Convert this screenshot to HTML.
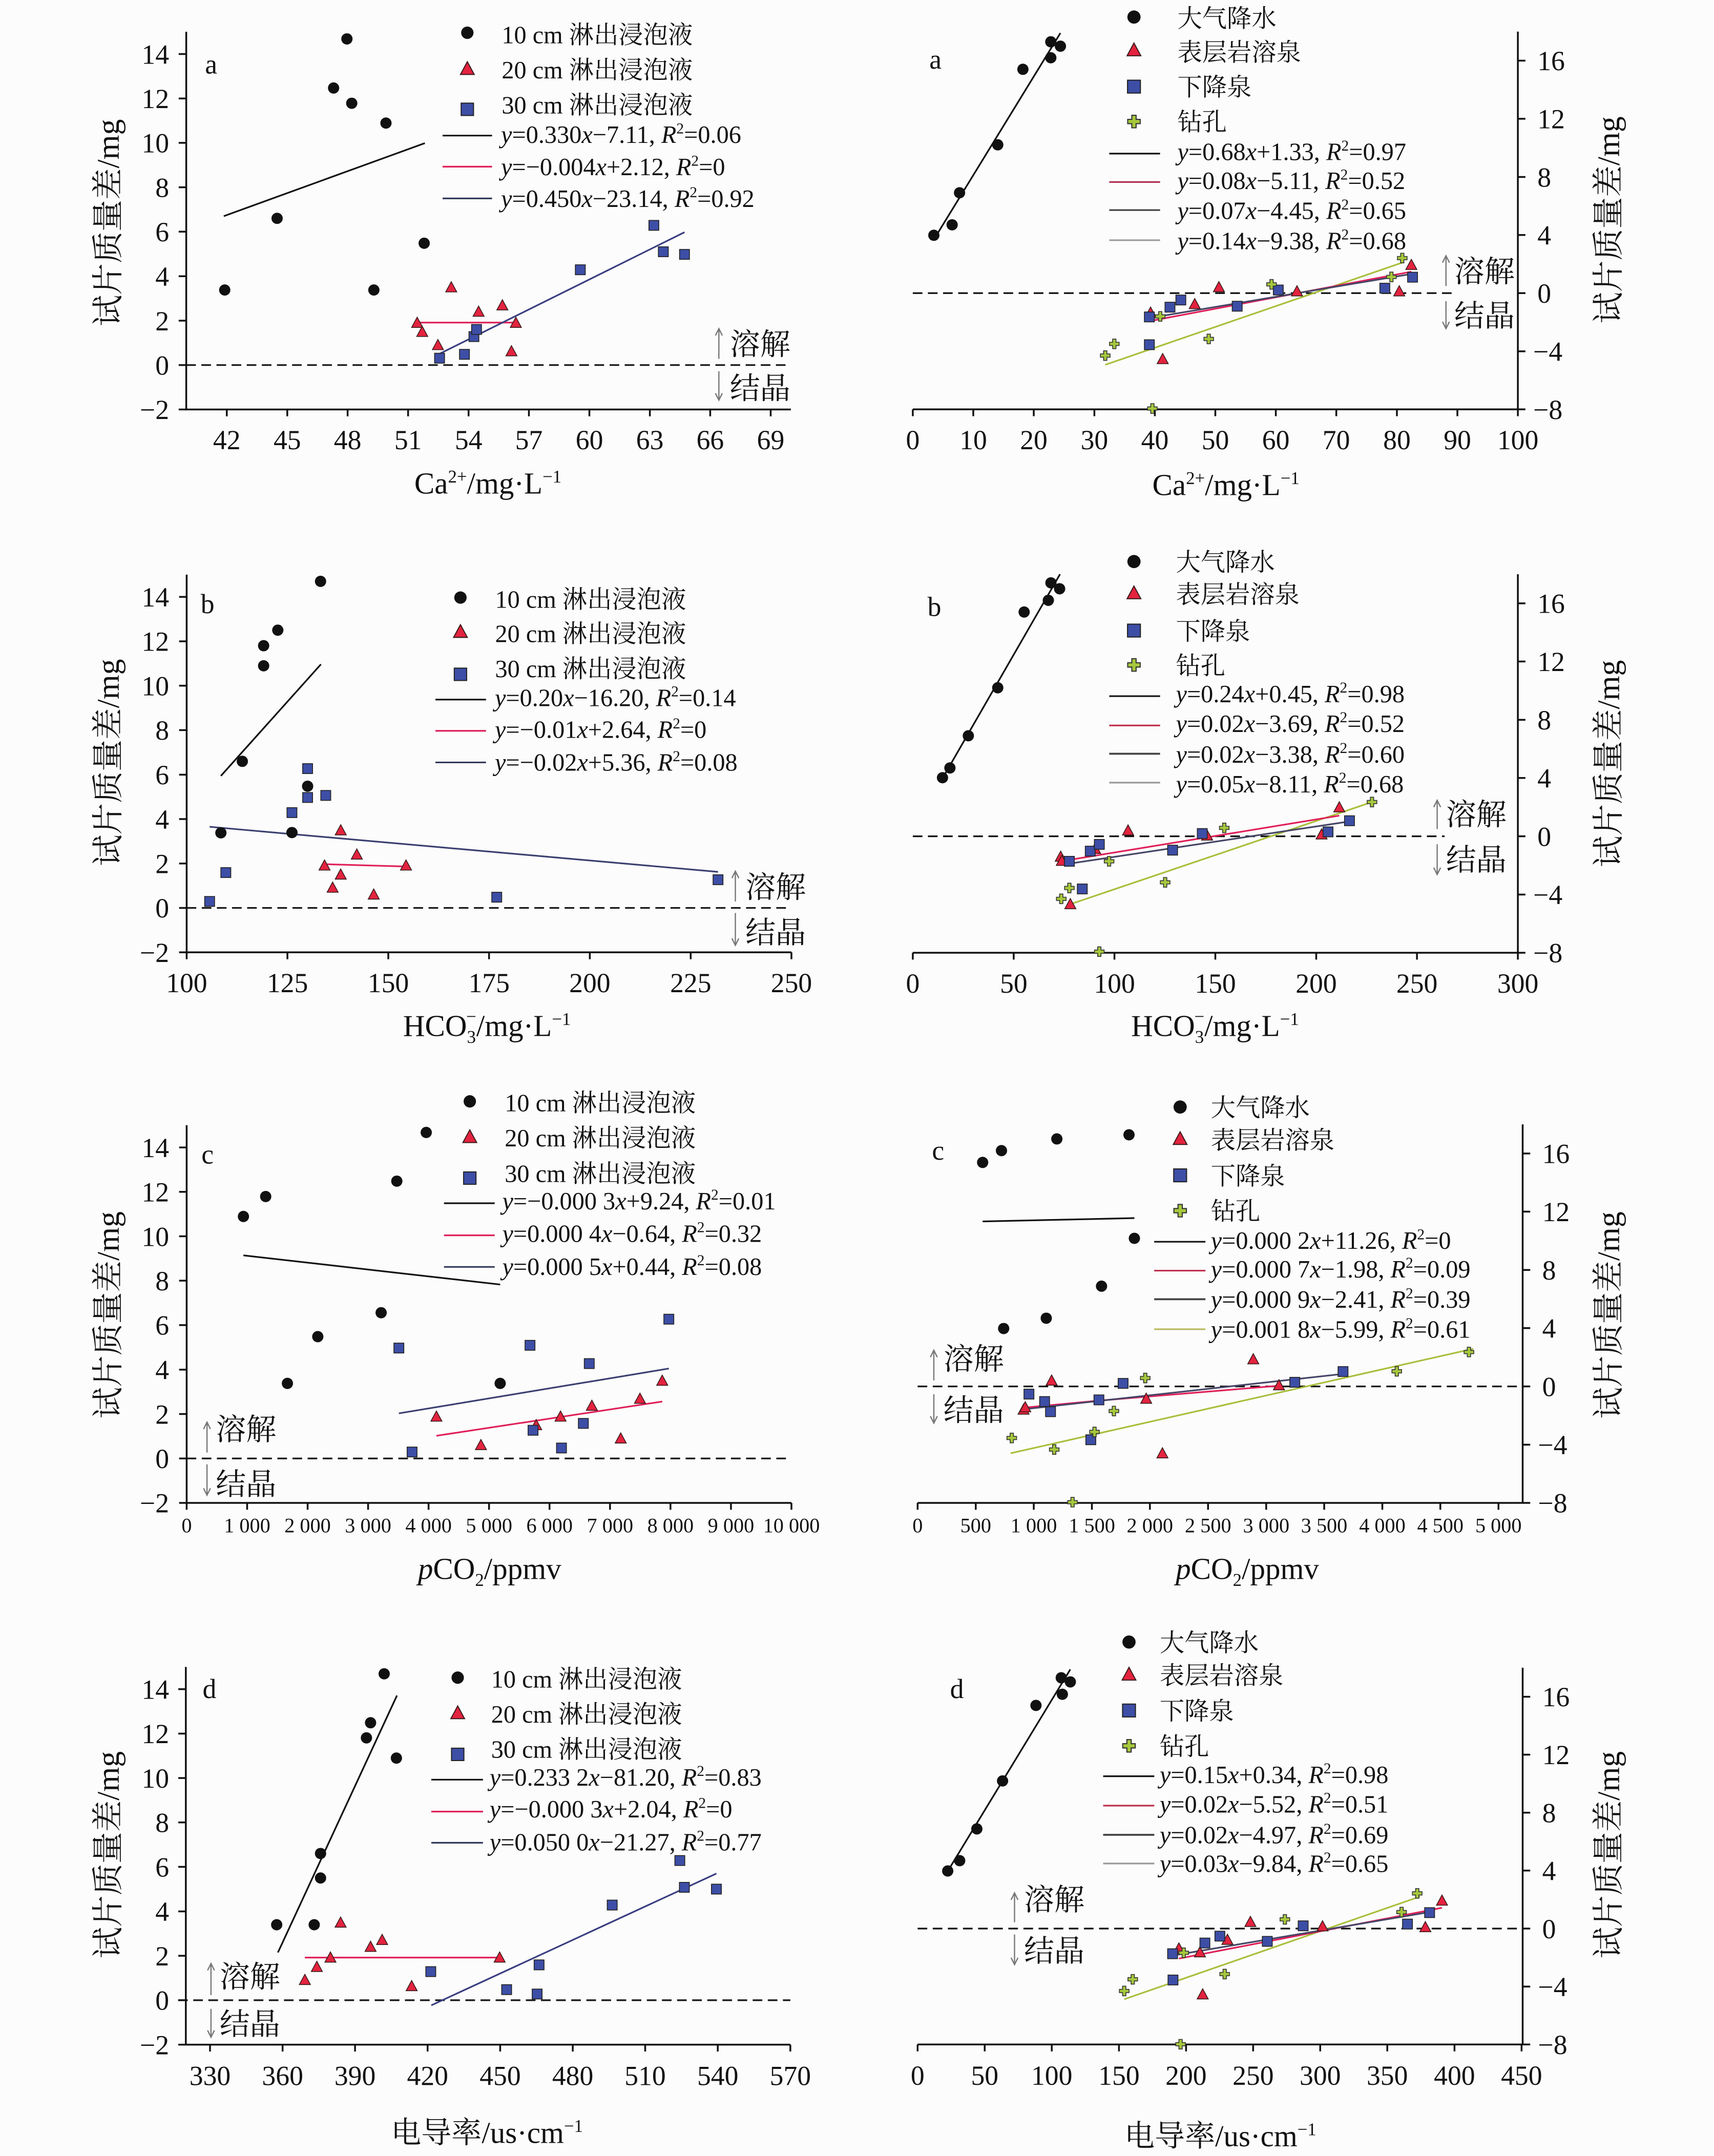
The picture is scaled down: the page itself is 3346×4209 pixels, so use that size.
<!DOCTYPE html>
<html>
<head>
<meta charset="utf-8">
<style>
html,body{margin:0;padding:0;background:#fcfcfc;}
svg{display:block;}
text{font-family:"Liberation Serif","Noto Serif CJK SC",serif;fill:#111;}
.tk{font-size:20px;}
.tks{font-size:15px;}
.lg{font-size:18px;}
.ax{font-size:22px;}
.yl{font-size:23px;}
.lt{font-size:20px;}
.sj{font-size:22px;}
.axis{stroke:#111;stroke-width:1.3;fill:none;}
.dash{stroke:#111;stroke-width:1.2;stroke-dasharray:7,4;fill:none;}
.arr{stroke:#777;stroke-width:0.9;fill:none;}
</style>
</head>
<body>
<svg width="3346" height="4209" viewBox="0 0 1247 1568" preserveAspectRatio="none" xmlns="http://www.w3.org/2000/svg">
<defs>
<circle id="C" r="4.1" fill="#111"/>
<path id="T" d="M0,-4.4 L4,3 L-4,3 Z" fill="#e4233f" stroke="#3a1a1a" stroke-width="0.6"/>
<rect id="S" x="-3.6" y="-3.6" width="7.2" height="7.2" fill="#3d4ea6" stroke="#222" stroke-width="0.6"/>
<path id="P" d="M-1.2,-3.5 h2.4 v2.3 h2.3 v2.4 h-2.3 v2.3 h-2.4 v-2.3 h-2.3 v-2.4 h2.3 z" fill="#a6c83c" stroke="#333" stroke-width="0.6"/>
</defs>
<rect x="0" y="0" width="1247" height="1568" fill="#fcfcfc"/>

<!-- ================= Panel a-left ================= -->
<g>
<path class="axis" d="M135.5,23.1 V297.8 H575.4"/>
<path class="axis" d="M130,297.8H135.5 M130,265.5H135.5 M130,233.2H135.5 M130,200.9H135.5 M130,168.5H135.5 M130,136.2H135.5 M130,103.9H135.5 M130,71.6H135.5 M130,39.3H135.5"/>
<path class="axis" d="M165,297.8v5 M209,297.8v5 M252.9,297.8v5 M296.9,297.8v5 M340.9,297.8v5 M384.8,297.8v5 M428.8,297.8v5 M472.8,297.8v5 M516.7,297.8v5 M560.7,297.8v5"/>
<g class="tk" text-anchor="end">
<text x="123" y="304.8">−2</text><text x="123" y="272.5">0</text><text x="123" y="240.2">2</text><text x="123" y="207.9">4</text><text x="123" y="175.5">6</text><text x="123" y="143.2">8</text><text x="123" y="110.9">10</text><text x="123" y="78.6">12</text><text x="123" y="46.3">14</text>
</g>
<g class="tk" text-anchor="middle">
<text x="165" y="326.8">42</text><text x="209" y="326.8">45</text><text x="252.9" y="326.8">48</text><text x="296.9" y="326.8">51</text><text x="340.9" y="326.8">54</text><text x="384.8" y="326.8">57</text><text x="428.8" y="326.8">60</text><text x="472.8" y="326.8">63</text><text x="516.7" y="326.8">66</text><text x="560.7" y="326.8">69</text>
</g>
<path class="dash" d="M135.5,265.5H575.4"/>
<text class="lt" x="153.6" y="53.5" text-anchor="middle">a</text>
<text class="yl" transform="translate(86.5,162) rotate(-90)" text-anchor="middle">试片质量差/mg</text>
<text class="ax" x="355" y="359" text-anchor="middle">Ca<tspan font-size="13" dy="-8">2+</tspan><tspan dy="8">/mg·L</tspan><tspan font-size="13" dy="-8">−1</tspan></text>
<path class="arr" d="M523,261V239 M520.5,244L523,239L525.5,244"/>
<path class="arr" d="M523,270V291 M520.5,286L523,291L525.5,286"/>
<text class="sj" x="531" y="258">溶解</text>
<text class="sj" x="531" y="290">结晶</text>
<!-- legend -->
<use href="#C" x="340" y="23.8" transform="translate(-34,-2.38) scale(1.1)"/>
<use href="#T" transform="translate(340,50.4) scale(1.25)"/>
<use href="#S" transform="translate(340,79.5) scale(1.25)"/>
<g class="lg">
<text x="365" y="31.5">10 cm 淋出浸泡液</text>
<text x="365" y="57">20 cm 淋出浸泡液</text>
<text x="365" y="82.5">30 cm 淋出浸泡液</text>
<text x="364.5" y="104"><tspan font-style="italic">y</tspan>=0.330<tspan font-style="italic">x</tspan>−7.11, <tspan font-style="italic">R</tspan><tspan font-size="11" dy="-7">2</tspan><tspan dy="7">=0.06</tspan></text>
<text x="364.5" y="127.5"><tspan font-style="italic">y</tspan>=−0.004<tspan font-style="italic">x</tspan>+2.12, <tspan font-style="italic">R</tspan><tspan font-size="11" dy="-7">2</tspan><tspan dy="7">=0</tspan></text>
<text x="364.5" y="150.5"><tspan font-style="italic">y</tspan>=0.450<tspan font-style="italic">x</tspan>−23.14, <tspan font-style="italic">R</tspan><tspan font-size="11" dy="-7">2</tspan><tspan dy="7">=0.92</tspan></text>
</g>
<path d="M322,98.6H358" stroke="#111" stroke-width="1.2"/>
<path d="M322,121.2H358" stroke="#e0205a" stroke-width="1.2"/>
<path d="M322,144.3H358" stroke="#333a5a" stroke-width="1.2"/>
<!-- lines -->
<path d="M162.8,157.2L309.1,104.1" stroke="#111" stroke-width="1.2"/>
<path d="M305.7,234.6H374.3" stroke="#e0205a" stroke-width="1.2"/>
<path d="M319.8,257.3L498,168.9" stroke="#3b3f80" stroke-width="1.2"/>
<!-- data -->
<use href="#C" x="163.5" y="210.9"/><use href="#C" x="201.6" y="158.8"/><use href="#C" x="242.7" y="64"/><use href="#C" x="252.4" y="28.3"/><use href="#C" x="255.9" y="75.1"/><use href="#C" x="280.8" y="89.5"/><use href="#C" x="272" y="210.9"/><use href="#C" x="308.6" y="176.9"/>
<use href="#T" x="303.5" y="235.1"/><use href="#T" x="307.2" y="241.7"/><use href="#T" x="318.6" y="251.3"/><use href="#T" x="328.3" y="209.3"/><use href="#T" x="348.2" y="227"/><use href="#T" x="365.5" y="222.4"/><use href="#T" x="375.3" y="235.1"/><use href="#T" x="372.1" y="255.8"/>
<use href="#S" x="319.8" y="260.5"/><use href="#S" x="337.9" y="257.7"/><use href="#S" x="344.8" y="244.8"/><use href="#S" x="346.7" y="239.6"/><use href="#S" x="422.2" y="196.2"/><use href="#S" x="475.7" y="163.9"/><use href="#S" x="482.6" y="183.1"/><use href="#S" x="498" y="185"/>
</g>

<!-- ================= Panel a-right ================= -->
<g>
<path class="axis" d="M664.1,297.7H1104.3 M1104.3,23V297.7"/>
<path class="axis" d="M1104.3,297.7h5.5 M1104.3,255.5h5.5 M1104.3,213.2h5.5 M1104.3,170.9h5.5 M1104.3,128.7h5.5 M1104.3,86.4h5.5 M1104.3,44.1h5.5"/>
<path class="axis" d="M664.1,297.7v5 M708.1,297.7v5 M752.1,297.7v5 M796.2,297.7v5 M840.2,297.7v5 M884.2,297.7v5 M928.2,297.7v5 M972.2,297.7v5 M1016.3,297.7v5 M1060.3,297.7v5 M1104.3,297.7v5"/>
<g class="tk">
<text x="1115.5" y="304.7">−8</text><text x="1115.5" y="262.5">−4</text><text x="1118.5" y="220.2">0</text><text x="1118.5" y="177.9">4</text><text x="1118.5" y="135.7">8</text><text x="1118.5" y="93.4">12</text><text x="1118.5" y="51.1">16</text>
</g>
<g class="tk" text-anchor="middle">
<text x="664.1" y="326.7">0</text><text x="708.1" y="326.7">10</text><text x="752.1" y="326.7">20</text><text x="796.2" y="326.7">30</text><text x="840.2" y="326.7">40</text><text x="884.2" y="326.7">50</text><text x="928.2" y="326.7">60</text><text x="972.2" y="326.7">70</text><text x="1016.3" y="326.7">80</text><text x="1060.3" y="326.7">90</text><text x="1104.3" y="326.7">100</text>
</g>
<path class="dash" d="M664.1,213.2H1104.3"/>
<text class="lt" x="680.6" y="50" text-anchor="middle">a</text>
<text class="yl" transform="translate(1178,160) rotate(-90)" text-anchor="middle">试片质量差/mg</text>
<text class="ax" x="891.9" y="360" text-anchor="middle">Ca<tspan font-size="13" dy="-8">2+</tspan><tspan dy="8">/mg·L</tspan><tspan font-size="13" dy="-8">−1</tspan></text>
<path class="arr" d="M1052,208V186 M1049.5,191L1052,186L1054.5,191"/>
<path class="arr" d="M1052,219V239 M1049.5,234L1052,239L1054.5,234"/>
<rect x="1057" y="184" width="46" height="56" fill="#fcfcfc"/>
<text class="sj" x="1058" y="205">溶解</text>
<text class="sj" x="1058" y="237.3">结晶</text>
<!-- legend -->
<circle cx="825" cy="12.4" r="4.8" fill="#111"/>
<use href="#T" transform="translate(825,36.8) scale(1.25)"/>
<use href="#S" transform="translate(825,63) scale(1.3)"/>
<use href="#P" transform="translate(825,88.4) scale(1.3)"/>
<g class="lg">
<text x="856.6" y="19.6">大气降水</text>
<text x="856.6" y="44.1">表层岩溶泉</text>
<text x="856.6" y="69.5">下降泉</text>
<text x="856.6" y="94.9">钻孔</text>
<text x="856.6" y="116.5"><tspan font-style="italic">y</tspan>=0.68<tspan font-style="italic">x</tspan>+1.33, <tspan font-style="italic">R</tspan><tspan font-size="11" dy="-7">2</tspan><tspan dy="7">=0.97</tspan></text>
<text x="856.6" y="137.5"><tspan font-style="italic">y</tspan>=0.08<tspan font-style="italic">x</tspan>−5.11, <tspan font-style="italic">R</tspan><tspan font-size="11" dy="-7">2</tspan><tspan dy="7">=0.52</tspan></text>
<text x="856.6" y="159.3"><tspan font-style="italic">y</tspan>=0.07<tspan font-style="italic">x</tspan>−4.45, <tspan font-style="italic">R</tspan><tspan font-size="11" dy="-7">2</tspan><tspan dy="7">=0.65</tspan></text>
<text x="856.6" y="181.2"><tspan font-style="italic">y</tspan>=0.14<tspan font-style="italic">x</tspan>−9.38, <tspan font-style="italic">R</tspan><tspan font-size="11" dy="-7">2</tspan><tspan dy="7">=0.68</tspan></text>
</g>
<path d="M807,111.7H844" stroke="#111" stroke-width="1.2"/>
<path d="M807,132.4H844" stroke="#b03050" stroke-width="1.2"/>
<path d="M807,152.8H844" stroke="#444" stroke-width="1.2"/>
<path d="M807,174.7H844" stroke="#999" stroke-width="1.2"/>
<!-- lines -->
<path d="M679.4,174.2L771.5,24" stroke="#111" stroke-width="1.2"/>
<path d="M804.1,265.3L1020.2,191" stroke="#a9bf3c" stroke-width="1.2"/>
<path d="M837.1,233.4L1026.8,197.6" stroke="#e0205a" stroke-width="1.2"/>
<path d="M836.2,231.3L1027.7,199.1" stroke="#454566" stroke-width="1.2"/>
<!-- data -->
<use href="#C" x="679.4" y="171.1"/><use href="#C" x="692.7" y="163.5"/><use href="#C" x="698.1" y="140.2"/><use href="#C" x="725.9" y="105.3"/><use href="#C" x="744.2" y="50.4"/><use href="#C" x="764.5" y="42"/><use href="#C" x="764.5" y="30.4"/><use href="#C" x="771.5" y="33.6"/>
<use href="#T" x="837.1" y="227.7"/><use href="#T" x="845.9" y="261.5"/><use href="#T" x="869.2" y="221.5"/><use href="#T" x="886.8" y="209.2"/><use href="#T" x="943.6" y="212.2"/><use href="#T" x="1018" y="212.2"/><use href="#T" x="1026.8" y="193"/>
<use href="#S" x="836.2" y="230.5"/><use href="#S" x="836.2" y="250.7"/><use href="#S" x="851.2" y="223.4"/><use href="#S" x="859.1" y="218.2"/><use href="#S" x="900.1" y="222.7"/><use href="#S" x="930" y="210.9"/><use href="#S" x="1007.5" y="209.6"/><use href="#S" x="1027.7" y="201.6"/>
<use href="#P" x="804.1" y="258.6"/><use href="#P" x="810.7" y="250.1"/><use href="#P" x="844.1" y="230.1"/><use href="#P" x="879.4" y="246.5"/><use href="#P" x="925.1" y="206.8"/><use href="#P" x="1012.3" y="201.4"/><use href="#P" x="1020.2" y="187.7"/><use href="#P" x="838.4" y="297.1"/>
</g>

<!-- ================= Panel b-left ================= -->
<g>
<path class="axis" d="M135.8,417.9V692.6H575.8"/>
<path class="axis" d="M130.3,692.6H135.8 M130.3,660.3H135.8 M130.3,628H135.8 M130.3,595.7H135.8 M130.3,563.4H135.8 M130.3,531H135.8 M130.3,498.7H135.8 M130.3,466.4H135.8 M130.3,434.1H135.8"/>
<path class="axis" d="M135.8,692.6v5 M209.1,692.6v5 M282.5,692.6v5 M355.8,692.6v5 M429.1,692.6v5 M502.5,692.6v5 M575.8,692.6v5"/>
<g class="tk" text-anchor="end">
<text x="123" y="699.6">−2</text><text x="123" y="667.3">0</text><text x="123" y="635">2</text><text x="123" y="602.7">4</text><text x="123" y="570.4">6</text><text x="123" y="538">8</text><text x="123" y="505.7">10</text><text x="123" y="473.4">12</text><text x="123" y="441.1">14</text>
</g>
<g class="tk" text-anchor="middle">
<text x="135.8" y="721.6">100</text><text x="209.1" y="721.6">125</text><text x="282.5" y="721.6">150</text><text x="355.8" y="721.6">175</text><text x="429.1" y="721.6">200</text><text x="502.5" y="721.6">225</text><text x="575.8" y="721.6">250</text>
</g>
<path class="dash" d="M135.8,660.3H575.8"/>
<text class="lt" x="151" y="446" text-anchor="middle">b</text>
<text class="yl" transform="translate(86.5,554.6) rotate(-90)" text-anchor="middle">试片质量差/mg</text>
<text class="ax" x="354.3" y="753.5" text-anchor="middle">HCO<tspan font-size="13" dy="5">3</tspan><tspan font-size="13" dx="-7" dy="-15">−</tspan><tspan dy="10">/mg·L</tspan><tspan font-size="13" dy="-8">−1</tspan></text>
<path class="arr" d="M535,655.6V633.6 M532.5,638.6L535,633.6L537.5,638.6"/>
<path class="arr" d="M535,664V687.5 M532.5,682.5L535,687.5L537.5,682.5"/>
<text class="sj" x="542.3" y="652.8">溶解</text>
<text class="sj" x="542.3" y="685.8">结晶</text>
<!-- legend -->
<circle cx="335" cy="434.6" r="4.5" fill="#111"/>
<use href="#T" transform="translate(335,459.8) scale(1.25)"/>
<use href="#S" transform="translate(335,490.4) scale(1.25)"/>
<g class="lg">
<text x="360.2" y="442">10 cm 淋出浸泡液</text>
<text x="360.2" y="467">20 cm 淋出浸泡液</text>
<text x="360.2" y="492.5">30 cm 淋出浸泡液</text>
<text x="360" y="513.5"><tspan font-style="italic">y</tspan>=0.20<tspan font-style="italic">x</tspan>−16.20, <tspan font-style="italic">R</tspan><tspan font-size="11" dy="-7">2</tspan><tspan dy="7">=0.14</tspan></text>
<text x="360" y="536.7"><tspan font-style="italic">y</tspan>=−0.01<tspan font-style="italic">x</tspan>+2.64, <tspan font-style="italic">R</tspan><tspan font-size="11" dy="-7">2</tspan><tspan dy="7">=0</tspan></text>
<text x="360" y="560.5"><tspan font-style="italic">y</tspan>=−0.02<tspan font-style="italic">x</tspan>+5.36, <tspan font-style="italic">R</tspan><tspan font-size="11" dy="-7">2</tspan><tspan dy="7">=0.08</tspan></text>
</g>
<path d="M316.8,508.8H353.6" stroke="#111" stroke-width="1.2"/>
<path d="M316.8,531.5H353.6" stroke="#e0205a" stroke-width="1.2"/>
<path d="M316.8,554.5H353.6" stroke="#333a5a" stroke-width="1.2"/>
<!-- lines -->
<path d="M160.7,564.3L233.5,483.1" stroke="#111" stroke-width="1.2"/>
<path d="M236.1,628.5L295.4,630.2" stroke="#e0205a" stroke-width="1.2"/>
<path d="M152.5,601.3L522.4,634.1" stroke="#3b3f70" stroke-width="1.2"/>
<!-- data -->
<use href="#C" x="160.7" y="605.7"/><use href="#C" x="176.3" y="553.7"/><use href="#C" x="191.8" y="469.6"/><use href="#C" x="191.8" y="484.2"/><use href="#C" x="202.1" y="458.3"/><use href="#C" x="212.4" y="605.5"/><use href="#C" x="223.8" y="571.8"/><use href="#C" x="233.2" y="422.8"/>
<use href="#T" x="236.1" y="629.8"/><use href="#T" x="242" y="645.9"/><use href="#T" x="247.9" y="604.2"/><use href="#T" x="247.9" y="636.4"/><use href="#T" x="259.6" y="621.8"/><use href="#T" x="271.9" y="650.9"/><use href="#T" x="295.4" y="629.8"/>
<use href="#S" x="152.5" y="655.6"/><use href="#S" x="164.3" y="634.6"/><use href="#S" x="212.4" y="591"/><use href="#S" x="223.8" y="559"/><use href="#S" x="223.8" y="580"/><use href="#S" x="237" y="578.5"/><use href="#S" x="361.4" y="652.5"/><use href="#S" x="522.4" y="639.8"/>
</g>

<!-- ================= Panel b-right ================= -->
<g>
<path class="axis" d="M664.1,692.9H1104.3 M1104.3,417.6V692.9"/>
<path class="axis" d="M1104.3,692.9h5.5 M1104.3,650.6h5.5 M1104.3,608.2h5.5 M1104.3,565.8h5.5 M1104.3,523.5h5.5 M1104.3,481.1h5.5 M1104.3,438.8h5.5"/>
<path class="axis" d="M664.1,692.9v5 M737.5,692.9v5 M810.8,692.9v5 M884.2,692.9v5 M957.6,692.9v5 M1030.9,692.9v5 M1104.3,692.9v5"/>
<g class="tk">
<text x="1115.5" y="699.9">−8</text><text x="1115.5" y="657.6">−4</text><text x="1118.5" y="615.2">0</text><text x="1118.5" y="572.8">4</text><text x="1118.5" y="530.5">8</text><text x="1118.5" y="488.1">12</text><text x="1118.5" y="445.8">16</text>
</g>
<g class="tk" text-anchor="middle">
<text x="664.1" y="721.9">0</text><text x="737.5" y="721.9">50</text><text x="810.8" y="721.9">100</text><text x="884.2" y="721.9">150</text><text x="957.6" y="721.9">200</text><text x="1030.9" y="721.9">250</text><text x="1104.3" y="721.9">300</text>
</g>
<path class="dash" d="M664.1,608.2H1104.3"/>
<text class="lt" x="679.8" y="448" text-anchor="middle">b</text>
<text class="yl" transform="translate(1178,555.4) rotate(-90)" text-anchor="middle">试片质量差/mg</text>
<text class="ax" x="884" y="753.5" text-anchor="middle">HCO<tspan font-size="13" dy="5">3</tspan><tspan font-size="13" dx="-7" dy="-15">−</tspan><tspan dy="10">/mg·L</tspan><tspan font-size="13" dy="-8">−1</tspan></text>
<path class="arr" d="M1045.6,603V582 M1043.1,587L1045.6,582L1048.1,587"/>
<path class="arr" d="M1045.6,614V636 M1043.1,631L1045.6,636L1048.1,631"/>
<rect x="1051" y="579" width="50" height="58" fill="#fcfcfc"/>
<text class="sj" x="1052" y="600">溶解</text>
<text class="sj" x="1052" y="633">结晶</text>
<!-- legend -->
<circle cx="825" cy="408.4" r="4.8" fill="#111"/>
<use href="#T" transform="translate(825,431.7) scale(1.25)"/>
<use href="#S" transform="translate(825,458.6) scale(1.3)"/>
<use href="#P" transform="translate(825,483.6) scale(1.3)"/>
<g class="lg">
<text x="855.5" y="415">大气降水</text>
<text x="855.5" y="438.5">表层岩溶泉</text>
<text x="855.5" y="465.3">下降泉</text>
<text x="855.5" y="490.3">钻孔</text>
<text x="855.5" y="510.7"><tspan font-style="italic">y</tspan>=0.24<tspan font-style="italic">x</tspan>+0.45, <tspan font-style="italic">R</tspan><tspan font-size="11" dy="-7">2</tspan><tspan dy="7">=0.98</tspan></text>
<text x="855.5" y="532.3"><tspan font-style="italic">y</tspan>=0.02<tspan font-style="italic">x</tspan>−3.69, <tspan font-style="italic">R</tspan><tspan font-size="11" dy="-7">2</tspan><tspan dy="7">=0.52</tspan></text>
<text x="855.5" y="554.7"><tspan font-style="italic">y</tspan>=0.02<tspan font-style="italic">x</tspan>−3.38, <tspan font-style="italic">R</tspan><tspan font-size="11" dy="-7">2</tspan><tspan dy="7">=0.60</tspan></text>
<text x="855.5" y="576.3"><tspan font-style="italic">y</tspan>=0.05<tspan font-style="italic">x</tspan>−8.11, <tspan font-style="italic">R</tspan><tspan font-size="11" dy="-7">2</tspan><tspan dy="7">=0.68</tspan></text>
</g>
<path d="M807,506.3H844" stroke="#111" stroke-width="1.2"/>
<path d="M807,527.6H844" stroke="#c03050" stroke-width="1.2"/>
<path d="M807,548.2H844" stroke="#444" stroke-width="1.4"/>
<path d="M807,569.2H844" stroke="#999" stroke-width="1.2"/>
<!-- lines -->
<path d="M685.7,566.1L771.2,417.6" stroke="#111" stroke-width="1.2"/>
<path d="M776.3,658.4L998.2,583.3" stroke="#a9bf3c" stroke-width="1.2"/>
<path d="M771.7,626.4L974.4,593.2" stroke="#e0205a" stroke-width="1.2"/>
<path d="M778,628.1L981.8,597.4" stroke="#454566" stroke-width="1.2"/>
<!-- data -->
<use href="#C" x="685.7" y="565.6"/><use href="#C" x="691.1" y="558.5"/><use href="#C" x="704.5" y="535.1"/><use href="#C" x="725.9" y="500.2"/><use href="#C" x="745.1" y="445.1"/><use href="#C" x="762.7" y="436.6"/><use href="#C" x="764.6" y="423.9"/><use href="#C" x="770.9" y="428.2"/>
<use href="#T" x="771.7" y="623.4"/><use href="#T" x="772.5" y="626.4"/><use href="#T" x="778.7" y="657.9"/><use href="#T" x="796.7" y="617.7"/><use href="#T" x="820.7" y="604.3"/><use href="#T" x="878.2" y="608"/><use href="#T" x="961.5" y="607.2"/><use href="#T" x="974.4" y="587.5"/>
<use href="#S" x="778" y="626.4"/><use href="#S" x="793.2" y="619"/><use href="#S" x="799.8" y="614.1"/><use href="#S" x="787.4" y="646.5"/><use href="#S" x="853.1" y="618.3"/><use href="#S" x="874.7" y="606.2"/><use href="#S" x="966.2" y="605"/><use href="#S" x="981.8" y="596.9"/>
<use href="#P" x="772.1" y="653.7"/><use href="#P" x="778" y="645.8"/><use href="#P" x="806.9" y="626.4"/><use href="#P" x="847.7" y="641.7"/><use href="#P" x="890.7" y="602.1"/><use href="#P" x="998.2" y="583.3"/><use href="#P" x="799.8" y="692.1"/>
</g>

<!-- ================= Panel c-left ================= -->
<g>
<path class="axis" d="M135.8,818.3V1093H575.8"/>
<path class="axis" d="M130.3,1093H135.8 M130.3,1060.7H135.8 M130.3,1028.4H135.8 M130.3,996.1H135.8 M130.3,963.7H135.8 M130.3,931.4H135.8 M130.3,899.1H135.8 M130.3,866.8H135.8 M130.3,834.5H135.8"/>
<path class="axis" d="M135.8,1093v5 M179.8,1093v5 M223.8,1093v5 M267.8,1093v5 M311.8,1093v5 M355.8,1093v5 M399.8,1093v5 M443.8,1093v5 M487.8,1093v5 M531.8,1093v5 M575.8,1093v5"/>
<g class="tk" text-anchor="end">
<text x="123" y="1100">−2</text><text x="123" y="1067.7">0</text><text x="123" y="1035.4">2</text><text x="123" y="1003.1">4</text><text x="123" y="970.7">6</text><text x="123" y="938.4">8</text><text x="123" y="906.1">10</text><text x="123" y="873.8">12</text><text x="123" y="841.5">14</text>
</g>
<g class="tks" text-anchor="middle">
<text x="135.8" y="1114.5">0</text><text x="179.8" y="1114.5">1 000</text><text x="223.8" y="1114.5">2 000</text><text x="267.8" y="1114.5">3 000</text><text x="311.8" y="1114.5">4 000</text><text x="355.8" y="1114.5">5 000</text><text x="399.8" y="1114.5">6 000</text><text x="443.8" y="1114.5">7 000</text><text x="487.8" y="1114.5">8 000</text><text x="531.8" y="1114.5">9 000</text><text x="575.8" y="1114.5">10 000</text>
</g>
<path class="dash" d="M135.8,1060.7H575.8"/>
<text class="lt" x="151" y="846.3" text-anchor="middle">c</text>
<text class="yl" transform="translate(86.5,956.4) rotate(-90)" text-anchor="middle">试片质量差/mg</text>
<text class="ax" x="356.2" y="1148.3" text-anchor="middle"><tspan font-style="italic">p</tspan>CO<tspan font-size="13" dy="5">2</tspan><tspan dy="-5">/ppmv</tspan></text>
<path class="arr" d="M150.6,1056.4V1034.3 M148.1,1039.3L150.6,1034.3L153.1,1039.3"/>
<path class="arr" d="M150.6,1065V1087.4 M148.1,1082.4L150.6,1087.4L153.1,1082.4"/>
<text class="sj" x="157" y="1047.2">溶解</text>
<text class="sj" x="157" y="1087">结晶</text>
<!-- legend -->
<circle cx="341.8" cy="801" r="4.5" fill="#111"/>
<use href="#T" transform="translate(341.8,827.2) scale(1.25)"/>
<use href="#S" transform="translate(341.8,856.8) scale(1.25)"/>
<g class="lg">
<text x="367.2" y="808.2">10 cm 淋出浸泡液</text>
<text x="367.2" y="833.7">20 cm 淋出浸泡液</text>
<text x="367.2" y="859.6">30 cm 淋出浸泡液</text>
<text x="365.4" y="879.5"><tspan font-style="italic">y</tspan>=−0.000 3<tspan font-style="italic">x</tspan>+9.24, <tspan font-style="italic">R</tspan><tspan font-size="11" dy="-7">2</tspan><tspan dy="7">=0.01</tspan></text>
<text x="365.4" y="903.2"><tspan font-style="italic">y</tspan>=0.000 4<tspan font-style="italic">x</tspan>−0.64, <tspan font-style="italic">R</tspan><tspan font-size="11" dy="-7">2</tspan><tspan dy="7">=0.32</tspan></text>
<text x="365.4" y="927.2"><tspan font-style="italic">y</tspan>=0.000 5<tspan font-style="italic">x</tspan>+0.44, <tspan font-style="italic">R</tspan><tspan font-size="11" dy="-7">2</tspan><tspan dy="7">=0.08</tspan></text>
</g>
<path d="M323,875.1H359.9" stroke="#111" stroke-width="1.2"/>
<path d="M323,898.4H359.9" stroke="#e0205a" stroke-width="1.2"/>
<path d="M323,921.4H359.9" stroke="#333a5a" stroke-width="1.2"/>
<!-- lines -->
<path d="M177.1,913L363.9,934.2" stroke="#111" stroke-width="1.2"/>
<path d="M317.5,1044.2L481.8,1019.3" stroke="#e0205a" stroke-width="1.2"/>
<path d="M290.2,1027.9L486.6,995.3" stroke="#3b3f70" stroke-width="1.2"/>
<!-- data -->
<use href="#C" x="177.1" y="884.7"/><use href="#C" x="193.3" y="870.2"/><use href="#C" x="209.1" y="1006.1"/><use href="#C" x="231.2" y="972.1"/><use href="#C" x="277.3" y="954.7"/><use href="#C" x="288.7" y="859"/><use href="#C" x="310.1" y="823.6"/><use href="#C" x="363.9" y="1006.1"/>
<use href="#T" x="317.5" y="1030.6"/><use href="#T" x="349.9" y="1051.3"/><use href="#T" x="390.1" y="1036.8"/><use href="#T" x="407.8" y="1030.6"/><use href="#T" x="430.6" y="1022.7"/><use href="#T" x="451.6" y="1046.5"/><use href="#T" x="465.6" y="1017.6"/><use href="#T" x="481.8" y="1004.5"/>
<use href="#S" x="290.2" y="980.4"/><use href="#S" x="299.8" y="1056"/><use href="#S" x="385.6" y="978.4"/><use href="#S" x="387.8" y="1040.2"/><use href="#S" x="408.5" y="1053.1"/><use href="#S" x="424.4" y="1035.2"/><use href="#S" x="428.7" y="991.7"/><use href="#S" x="486.6" y="959.4"/>
</g>

<!-- ================= Panel c-right ================= -->
<g>
<path class="axis" d="M667.6,1093H1107.8 M1107.8,817.7V1093"/>
<path class="axis" d="M1107.8,1093h5.5 M1107.8,1050.7h5.5 M1107.8,1008.3h5.5 M1107.8,965.9h5.5 M1107.8,923.6h5.5 M1107.8,881.2h5.5 M1107.8,838.9h5.5"/>
<path class="axis" d="M667.6,1093v5 M709.9,1093v5 M752.1,1093v5 M794.4,1093v5 M836.6,1093v5 M878.9,1093v5 M921.2,1093v5 M963.4,1093v5 M1005.7,1093v5 M1047.9,1093v5 M1090.2,1093v5"/>
<g class="tk">
<text x="1119" y="1100">−8</text><text x="1119" y="1057.7">−4</text><text x="1122" y="1015.3">0</text><text x="1122" y="972.9">4</text><text x="1122" y="930.6">8</text><text x="1122" y="888.2">12</text><text x="1122" y="845.9">16</text>
</g>
<g class="tks" text-anchor="middle">
<text x="667.6" y="1114.5">0</text><text x="709.9" y="1114.5">500</text><text x="752.1" y="1114.5">1 000</text><text x="794.4" y="1114.5">1 500</text><text x="836.6" y="1114.5">2 000</text><text x="878.9" y="1114.5">2 500</text><text x="921.2" y="1114.5">3 000</text><text x="963.4" y="1114.5">3 500</text><text x="1005.7" y="1114.5">4 000</text><text x="1047.9" y="1114.5">4 500</text><text x="1090.2" y="1114.5">5 000</text>
</g>
<path class="dash" d="M667.6,1008.3H1107.8"/>
<text class="lt" x="682.5" y="843.4" text-anchor="middle">c</text>
<text class="yl" transform="translate(1178,956.5) rotate(-90)" text-anchor="middle">试片质量差/mg</text>
<text class="ax" x="907.5" y="1148.3" text-anchor="middle"><tspan font-style="italic">p</tspan>CO<tspan font-size="13" dy="5">2</tspan><tspan dy="-5">/ppmv</tspan></text>
<path class="arr" d="M679.4,1004V982 M676.9,987L679.4,982L681.9,987"/>
<path class="arr" d="M679.4,1014V1035 M676.9,1030L679.4,1035L681.9,1030"/>
<text class="sj" x="686.4" y="995.9">溶解</text>
<text class="sj" x="686.4" y="1033.2">结晶</text>
<!-- legend -->
<circle cx="858.6" cy="805.1" r="4.8" fill="#111"/>
<use href="#T" transform="translate(858.6,828.6) scale(1.25)"/>
<use href="#S" transform="translate(858.6,854.8) scale(1.3)"/>
<use href="#P" transform="translate(858.6,880.5) scale(1.3)"/>
<g class="lg">
<text x="880.9" y="811.7">大气降水</text>
<text x="880.9" y="835.4">表层岩溶泉</text>
<text x="880.9" y="861.5">下降泉</text>
<text x="880.9" y="887">钻孔</text>
<text x="880.9" y="908.3"><tspan font-style="italic">y</tspan>=0.000 2<tspan font-style="italic">x</tspan>+11.26, <tspan font-style="italic">R</tspan><tspan font-size="11" dy="-7">2</tspan><tspan dy="7">=0</tspan></text>
<text x="880.9" y="929.1"><tspan font-style="italic">y</tspan>=0.000 7<tspan font-style="italic">x</tspan>−1.98, <tspan font-style="italic">R</tspan><tspan font-size="11" dy="-7">2</tspan><tspan dy="7">=0.09</tspan></text>
<text x="880.9" y="951.1"><tspan font-style="italic">y</tspan>=0.000 9<tspan font-style="italic">x</tspan>−2.41, <tspan font-style="italic">R</tspan><tspan font-size="11" dy="-7">2</tspan><tspan dy="7">=0.39</tspan></text>
<text x="880.9" y="972.9"><tspan font-style="italic">y</tspan>=0.001 8<tspan font-style="italic">x</tspan>−5.99, <tspan font-style="italic">R</tspan><tspan font-size="11" dy="-7">2</tspan><tspan dy="7">=0.61</tspan></text>
</g>
<path d="M839.7,903.1H877" stroke="#111" stroke-width="1.2"/>
<path d="M839.7,924.1H877" stroke="#c03050" stroke-width="1.2"/>
<path d="M839.7,944.9H877" stroke="#444" stroke-width="1.4"/>
<path d="M839.7,966.7H877" stroke="#b8b860" stroke-width="1.2"/>
<!-- lines -->
<path d="M714.9,888.3L825.3,885.9" stroke="#111" stroke-width="1.2"/>
<path d="M735.3,1056.9L1071.9,980.9" stroke="#a9bf3c" stroke-width="1.2"/>
<path d="M744.7,1023.8L800,1018.6L930.5,1007.8" stroke="#e0205a" stroke-width="1.2" fill="none"/>
<path d="M748.6,1024.5L977.1,999.2" stroke="#454566" stroke-width="1.2"/>
<!-- data -->
<use href="#C" x="714.9" y="845.4"/><use href="#C" x="728.6" y="836.8"/><use href="#C" x="768.9" y="828.3"/><use href="#C" x="821.4" y="825.3"/><use href="#C" x="825.3" y="900.6"/><use href="#C" x="801.4" y="935.4"/><use href="#C" x="761.2" y="958.7"/><use href="#C" x="730.2" y="966.2"/>
<use href="#T" x="744.7" y="1025.5"/><use href="#T" x="745.9" y="1023.8"/><use href="#T" x="765.1" y="1004.4"/><use href="#T" x="833.9" y="1017.6"/><use href="#T" x="845.7" y="1057.3"/><use href="#T" x="911.8" y="988.9"/><use href="#T" x="930.5" y="1007.8"/>
<use href="#S" x="748.6" y="1013.9"/><use href="#S" x="760" y="1019.3"/><use href="#S" x="764.3" y="1026.7"/><use href="#S" x="793.6" y="1047.1"/><use href="#S" x="799.5" y="1018.1"/><use href="#S" x="817.1" y="1006.1"/><use href="#S" x="942" y="1005.3"/><use href="#S" x="977.1" y="997.5"/>
<use href="#P" x="736.1" y="1045.8"/><use href="#P" x="767" y="1054.2"/><use href="#P" x="796.3" y="1041.4"/><use href="#P" x="810.4" y="1026.2"/><use href="#P" x="833.2" y="1002.2"/><use href="#P" x="1016.2" y="997.3"/><use href="#P" x="1068.7" y="983.3"/><use href="#P" x="780.3" y="1092.5"/>
</g>

<!-- ================= Panel d-left ================= -->
<g>
<path class="axis" d="M135.2,1212.3V1487H575 M129.7,1487H135.2"/>
<path class="axis" d="M129.7,1454.7H135.2 M129.7,1422.4H135.2 M129.7,1390.1H135.2 M129.7,1357.7H135.2 M129.7,1325.4H135.2 M129.7,1293.1H135.2 M129.7,1260.8H135.2 M129.7,1228.5H135.2"/>
<path class="axis" d="M152.8,1487v5 M205.6,1487v5 M258.3,1487v5 M311.1,1487v5 M363.9,1487v5 M416.7,1487v5 M469.4,1487v5 M522.2,1487v5 M575,1487v5"/>
<g class="tk" text-anchor="end">
<text x="123" y="1494">−2</text><text x="123" y="1461.7">0</text><text x="123" y="1429.4">2</text><text x="123" y="1397.1">4</text><text x="123" y="1364.7">6</text><text x="123" y="1332.4">8</text><text x="123" y="1300.1">10</text><text x="123" y="1267.8">12</text><text x="123" y="1235.5">14</text>
</g>
<g class="tk" text-anchor="middle">
<text x="152.8" y="1516.5">330</text><text x="205.6" y="1516.5">360</text><text x="258.3" y="1516.5">390</text><text x="311.1" y="1516.5">420</text><text x="363.9" y="1516.5">450</text><text x="416.7" y="1516.5">480</text><text x="469.4" y="1516.5">510</text><text x="522.2" y="1516.5">540</text><text x="575" y="1516.5">570</text>
</g>
<path class="dash" d="M129.6,1454.7H575"/>
<text class="lt" x="152.4" y="1235" text-anchor="middle">d</text>
<text class="yl" transform="translate(86.5,1349) rotate(-90)" text-anchor="middle">试片质量差/mg</text>
<text class="ax" x="354.3" y="1558.5" text-anchor="middle">电导率/us·cm<tspan font-size="13" dy="-8">−1</tspan></text>
<path class="arr" d="M153.5,1451V1428 M151,1433L153.5,1428L156,1433"/>
<path class="arr" d="M153.5,1461V1481.6 M151,1476.6L153.5,1481.6L156,1476.6"/>
<text class="sj" x="159.8" y="1445.2">溶解</text>
<text class="sj" x="159.8" y="1479.8">结晶</text>
<!-- legend -->
<circle cx="333" cy="1220.1" r="4.5" fill="#111"/>
<use href="#T" transform="translate(333,1246.2) scale(1.25)"/>
<use href="#S" transform="translate(333,1275.9) scale(1.25)"/>
<g class="lg">
<text x="357.3" y="1227.3">10 cm 淋出浸泡液</text>
<text x="357.3" y="1252.9">20 cm 淋出浸泡液</text>
<text x="357.3" y="1278.4">30 cm 淋出浸泡液</text>
<text x="356.2" y="1298.6"><tspan font-style="italic">y</tspan>=0.233 2<tspan font-style="italic">x</tspan>−81.20, <tspan font-style="italic">R</tspan><tspan font-size="11" dy="-7">2</tspan><tspan dy="7">=0.83</tspan></text>
<text x="356.2" y="1321.8"><tspan font-style="italic">y</tspan>=−0.000 3<tspan font-style="italic">x</tspan>+2.04, <tspan font-style="italic">R</tspan><tspan font-size="11" dy="-7">2</tspan><tspan dy="7">=0</tspan></text>
<text x="356.2" y="1345.7"><tspan font-style="italic">y</tspan>=0.050 0<tspan font-style="italic">x</tspan>−21.27, <tspan font-style="italic">R</tspan><tspan font-size="11" dy="-7">2</tspan><tspan dy="7">=0.77</tspan></text>
</g>
<path d="M313.8,1294.3H351.4" stroke="#111" stroke-width="1.2"/>
<path d="M313.8,1317.5H351.4" stroke="#e0205a" stroke-width="1.2"/>
<path d="M313.8,1340.2H351.4" stroke="#333a5a" stroke-width="1.2"/>
<!-- lines -->
<path d="M202.2,1420L288.8,1233.1" stroke="#111" stroke-width="1.2"/>
<path d="M221.8,1423.7H363.5" stroke="#e0205a" stroke-width="1.2"/>
<path d="M313.8,1458.4L521.2,1362.6" stroke="#3b3f80" stroke-width="1.2"/>
<!-- data -->
<use href="#C" x="201.3" y="1399.8"/><use href="#C" x="228.6" y="1399.8"/><use href="#C" x="233.2" y="1348"/><use href="#C" x="233.2" y="1365.8"/><use href="#C" x="266.6" y="1263.9"/><use href="#C" x="269.6" y="1252.9"/><use href="#C" x="279.5" y="1217.3"/><use href="#C" x="288.4" y="1278.6"/>
<use href="#T" x="221.8" y="1440.3"/><use href="#T" x="230.5" y="1430.8"/><use href="#T" x="240.4" y="1424"/><use href="#T" x="247.8" y="1398.6"/><use href="#T" x="269.6" y="1416.2"/><use href="#T" x="278" y="1411.2"/><use href="#T" x="299.5" y="1444.8"/><use href="#T" x="363.5" y="1424"/>
<use href="#S" x="313.4" y="1433.9"/><use href="#S" x="368.6" y="1447"/><use href="#S" x="390.8" y="1450.2"/><use href="#S" x="392.2" y="1429"/><use href="#S" x="445.4" y="1385.5"/><use href="#S" x="494.6" y="1353.1"/><use href="#S" x="497.9" y="1372.6"/><use href="#S" x="521.2" y="1373.9"/>
</g>

<!-- ================= Panel d-right ================= -->
<g>
<path class="axis" d="M667.6,1486.9H1107.8 M1107.8,1212.9V1486.9"/>
<path class="axis" d="M1107.8,1486.9h5.5 M1107.8,1444.8h5.5 M1107.8,1402.6h5.5 M1107.8,1360.4h5.5 M1107.8,1318.3h5.5 M1107.8,1276.1h5.5 M1107.8,1234h5.5"/>
<path class="axis" d="M667.6,1486.9v5 M716.4,1486.9v5 M765.2,1486.9v5 M814.1,1486.9v5 M862.9,1486.9v5 M911.7,1486.9v5 M960.5,1486.9v5 M1009.3,1486.9v5 M1058.2,1486.9v5 M1107,1486.9v5"/>
<g class="tk">
<text x="1119" y="1493.9">−8</text><text x="1119" y="1451.8">−4</text><text x="1122" y="1409.6">0</text><text x="1122" y="1367.4">4</text><text x="1122" y="1325.3">8</text><text x="1122" y="1283.1">12</text><text x="1122" y="1241">16</text>
</g>
<g class="tk" text-anchor="middle">
<text x="667.6" y="1516.2">0</text><text x="716.4" y="1516.2">50</text><text x="765.2" y="1516.2">100</text><text x="814.1" y="1516.2">150</text><text x="862.9" y="1516.2">200</text><text x="911.7" y="1516.2">250</text><text x="960.5" y="1516.2">300</text><text x="1009.3" y="1516.2">350</text><text x="1058.2" y="1516.2">400</text><text x="1107" y="1516.2">450</text>
</g>
<path class="dash" d="M667.6,1402.6H1107.8"/>
<text class="lt" x="696.2" y="1235" text-anchor="middle">d</text>
<text class="yl" transform="translate(1178,1349) rotate(-90)" text-anchor="middle">试片质量差/mg</text>
<text class="ax" x="887.9" y="1561" text-anchor="middle">电导率/us·cm<tspan font-size="13" dy="-8">−1</tspan></text>
<path class="arr" d="M738.1,1398V1376.7 M735.6,1381.7L738.1,1376.7L740.6,1381.7"/>
<path class="arr" d="M738.1,1406.9V1428.8 M735.6,1423.8L738.1,1428.8L740.6,1423.8"/>
<text class="sj" x="745" y="1389.2">溶解</text>
<text class="sj" x="745" y="1426.4">结晶</text>
<!-- legend -->
<circle cx="821.4" cy="1194.2" r="4.8" fill="#111"/>
<use href="#T" transform="translate(821.4,1218.1) scale(1.25)"/>
<use href="#S" transform="translate(821.4,1244) scale(1.3)"/>
<use href="#P" transform="translate(821.4,1269.7) scale(1.3)"/>
<g class="lg">
<text x="843.7" y="1200.8">大气降水</text>
<text x="843.7" y="1224.7">表层岩溶泉</text>
<text x="843.7" y="1250.6">下降泉</text>
<text x="843.7" y="1276.3">钻孔</text>
<text x="843.7" y="1296.8"><tspan font-style="italic">y</tspan>=0.15<tspan font-style="italic">x</tspan>+0.34, <tspan font-style="italic">R</tspan><tspan font-size="11" dy="-7">2</tspan><tspan dy="7">=0.98</tspan></text>
<text x="843.7" y="1318.2"><tspan font-style="italic">y</tspan>=0.02<tspan font-style="italic">x</tspan>−5.52, <tspan font-style="italic">R</tspan><tspan font-size="11" dy="-7">2</tspan><tspan dy="7">=0.51</tspan></text>
<text x="843.7" y="1340.6"><tspan font-style="italic">y</tspan>=0.02<tspan font-style="italic">x</tspan>−4.97, <tspan font-style="italic">R</tspan><tspan font-size="11" dy="-7">2</tspan><tspan dy="7">=0.69</tspan></text>
<text x="843.7" y="1361.5"><tspan font-style="italic">y</tspan>=0.03<tspan font-style="italic">x</tspan>−9.84, <tspan font-style="italic">R</tspan><tspan font-size="11" dy="-7">2</tspan><tspan dy="7">=0.65</tspan></text>
</g>
<path d="M802.6,1291.8H839.8" stroke="#111" stroke-width="1.2"/>
<path d="M802.6,1313.2H839.8" stroke="#c03050" stroke-width="1.2"/>
<path d="M802.6,1334.4H839.8" stroke="#444" stroke-width="1.4"/>
<path d="M802.6,1355.3H839.8" stroke="#999" stroke-width="1.2"/>
<!-- lines -->
<path d="M687.9,1363.5L778.7,1214.1" stroke="#111" stroke-width="1.2"/>
<path d="M817.9,1454L1033.1,1379.3" stroke="#a9bf3c" stroke-width="1.2"/>
<path d="M857.7,1424.4L1049.1,1387.5" stroke="#e0205a" stroke-width="1.2"/>
<path d="M853.1,1422.2L1040.1,1390.6" stroke="#454566" stroke-width="1.2"/>
<!-- data -->
<use href="#C" x="689.5" y="1360.7"/><use href="#C" x="698.2" y="1353.2"/><use href="#C" x="710.7" y="1330.1"/><use href="#C" x="729.4" y="1295.2"/><use href="#C" x="753.7" y="1240.3"/><use href="#C" x="772.9" y="1232.2"/><use href="#C" x="772.1" y="1220.2"/><use href="#C" x="778.7" y="1223.2"/>
<use href="#T" x="857.7" y="1417.4"/><use href="#T" x="873" y="1420.2"/><use href="#T" x="875" y="1450.8"/><use href="#T" x="893" y="1411.1"/><use href="#T" x="909.7" y="1398.1"/><use href="#T" x="962.2" y="1401.3"/><use href="#T" x="1037" y="1401.9"/><use href="#T" x="1049.1" y="1382.6"/>
<use href="#S" x="853.1" y="1420.9"/><use href="#S" x="853.4" y="1440"/><use href="#S" x="876.6" y="1413.1"/><use href="#S" x="887.5" y="1408.1"/><use href="#S" x="922" y="1411.9"/><use href="#S" x="948.1" y="1400.6"/><use href="#S" x="1024" y="1399.3"/><use href="#S" x="1040.1" y="1391"/>
<use href="#P" x="817.9" y="1448"/><use href="#P" x="824.1" y="1439.5"/><use href="#P" x="861.2" y="1420.2"/><use href="#P" x="891" y="1435.7"/><use href="#P" x="934.8" y="1395.9"/><use href="#P" x="1019.7" y="1390.6"/><use href="#P" x="1031.1" y="1377"/><use href="#P" x="858.9" y="1486.7"/>
</g>
</svg>
</body>
</html>
